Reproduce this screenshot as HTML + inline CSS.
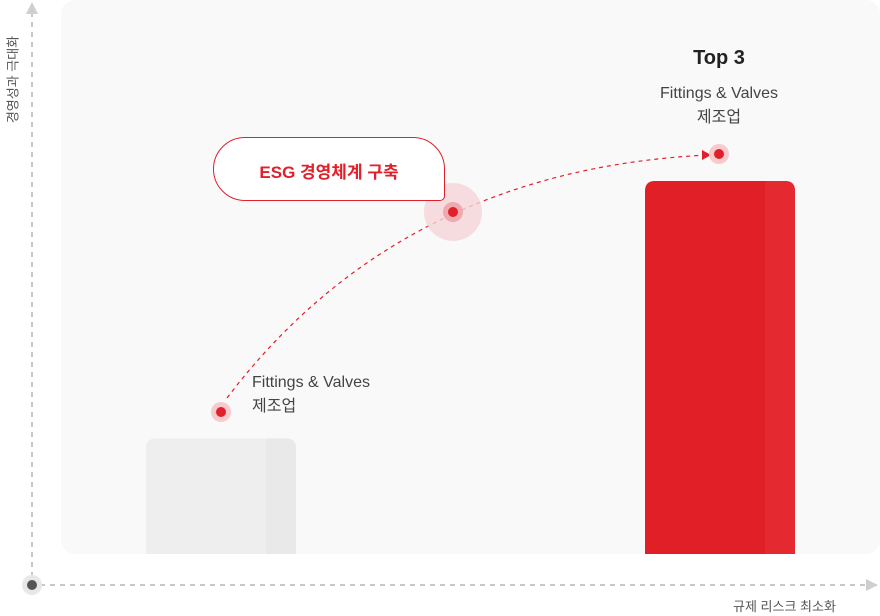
<!DOCTYPE html>
<html><head><meta charset="utf-8"><style>
html,body{margin:0;padding:0;background:#fff;}
body{width:880px;height:616px;position:relative;overflow:hidden;font-family:"Liberation Sans","Noto Sans CJK KR",sans-serif;}
.t{position:absolute;white-space:nowrap;}
</style></head><body>
<svg width="880" height="616" style="position:absolute;left:0;top:0">
<rect x="61" y="0" width="819" height="554" rx="14" fill="#f9f9f9"/>
<g id="bars"></g>
<line x1="32" y1="12" x2="32" y2="584" stroke="#c8c8c8" stroke-width="2" stroke-dasharray="5,5"/>
<polygon points="26,14 38,14 32,2" fill="#cfcfcf"/>
<line x1="40" y1="585" x2="866" y2="585" stroke="#c8c8c8" stroke-width="2" stroke-dasharray="5,5"/>
<polygon points="866,579 866,591 878,585" fill="#cfcfcf"/>
<circle cx="32" cy="585" r="10" fill="#e8e8e8"/>
<circle cx="32" cy="585" r="5" fill="#555"/>
<path d="M227,398 Q400,170 708,155" fill="none" stroke="#e0202a" stroke-width="1.2" stroke-dasharray="4,4"/>
<polygon points="702,150 711,155 702,160" fill="#e0202a"/>
<circle cx="453" cy="212" r="29" fill="#f5d5d7" opacity="0.8"/>
<circle cx="453" cy="212" r="10" fill="#f0a9ae"/>
<circle cx="453" cy="212" r="5" fill="#e0202a"/>
<circle cx="221" cy="412" r="10" fill="#f7cacd"/>
<circle cx="221" cy="412" r="5" fill="#e0202a"/>
<circle cx="719" cy="154" r="10" fill="#f7cacd"/>
<circle cx="719" cy="154" r="5" fill="#e0202a"/>
</svg>
<div class="t" style="left:-38px;top:70px;width:100px;text-align:center;transform:rotate(-90deg);font-size:13px;color:#555;">경영성과 극대화</div>
<div class="t" style="left:733px;top:596px;font-size:13px;color:#555;">규제 리스크 최소화</div>
<div style="position:absolute;left:213px;top:137px;width:230px;height:62px;border:1.5px solid #e0202a;border-radius:32px 32px 5px 32px;background:#fff;"></div>
<div class="t" style="left:213px;top:158px;width:232px;text-align:center;font-size:17px;font-weight:bold;color:#e0202a;">ESG 경영체계 구축</div>
<div class="t" style="left:252px;top:371px;font-size:16px;color:#444;line-height:24px;">Fittings &amp; Valves<br>제조업</div>
<div class="t" style="left:619px;top:47px;width:200px;text-align:center;font-size:20px;font-weight:bold;color:#222;">Top 3</div>
<div class="t" style="left:619px;top:82px;width:200px;text-align:center;font-size:16px;color:#444;line-height:24px;">Fittings &amp; Valves<br>제조업</div>
<script>
const categories = ["current", "top3"];
const values = [31, 100];
const baseY = 554, plotTop = 181;
const xPos = {current: 146, top3: 645};
function yScale(v){ return baseY - v/100*(baseY-plotTop); }
const g = document.getElementById('bars');
const NS = 'http://www.w3.org/2000/svg';
const fills = [["#eeeeee","#e9e9e9"],["#e01f26","#e42a30"]];
categories.forEach((c,i)=>{
  const y = yScale(values[i]), x = xPos[c], w = 150;
  const p = document.createElementNS(NS,'path');
  p.setAttribute('d',`M${x},${baseY} V${y+10} Q${x},${y} ${x+10},${y} H${x+w-10} Q${x+w},${y} ${x+w},${y+10} V${baseY} Z`);
  p.setAttribute('fill',fills[i][0]);
  
  
  g.appendChild(p);
  const s = document.createElementNS(NS,'path');
  s.setAttribute('d',`M${x+120},${baseY} V${y} H${x+w-10} Q${x+w},${y} ${x+w},${y+10} V${baseY} Z`);
  s.setAttribute('fill',fills[i][1]);
  
  
  g.appendChild(s);
});
</script>
</body></html>
